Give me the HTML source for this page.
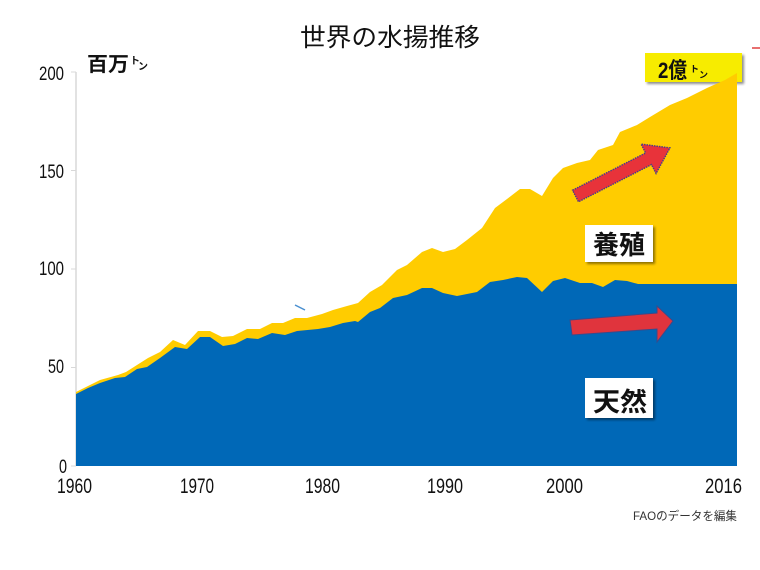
<!DOCTYPE html>
<html>
<head>
<meta charset="utf-8">
<style>
html,body{margin:0;padding:0;background:#fff;}
svg{display:block;}
text{font-family:"Liberation Sans","Noto Sans CJK JP",sans-serif;}
</style>
</head>
<body>
<svg width="760" height="570" viewBox="0 0 760 570" xmlns="http://www.w3.org/2000/svg">
<defs>
<filter id="sh" x="-20%" y="-20%" width="150%" height="160%">
<feGaussianBlur in="SourceAlpha" stdDeviation="1.2"/>
<feOffset dx="2" dy="2" result="o"/>
<feComponentTransfer><feFuncA type="linear" slope="0.45"/></feComponentTransfer>
<feMerge><feMergeNode/><feMergeNode in="SourceGraphic"/></feMerge>
</filter>
</defs>
<rect width="760" height="570" fill="#fff"/>

<!-- title -->
<text x="390" y="46" text-anchor="middle" font-size="25" textLength="180" lengthAdjust="spacingAndGlyphs" fill="#111">世界の水揚推移</text>

<!-- unit -->
<text x="87" y="71" font-size="20" font-weight="bold" fill="#111" textLength="42" lengthAdjust="spacingAndGlyphs">百万</text>
<text x="130" y="64" font-size="10" font-weight="bold" fill="#111">ト</text>
<text x="138" y="70" font-size="10" font-weight="bold" fill="#111">ン</text>

<!-- y axis -->
<line x1="76" y1="72" x2="76" y2="466" stroke="#d8d8d8" stroke-width="1.5"/>
<g stroke="#d8d8d8" stroke-width="1">
<line x1="71" y1="72" x2="76" y2="72"/>
<line x1="71" y1="170.5" x2="76" y2="170.5"/>
<line x1="71" y1="269" x2="76" y2="269"/>
<line x1="71" y1="367.5" x2="76" y2="367.5"/>
<line x1="71" y1="466" x2="76" y2="466"/>
</g>
<g font-size="19" fill="#111" text-anchor="end">
<text x="64" y="80" textLength="25" lengthAdjust="spacingAndGlyphs">200</text>
<text x="64" y="178" textLength="25" lengthAdjust="spacingAndGlyphs">150</text>
<text x="64" y="275" textLength="25" lengthAdjust="spacingAndGlyphs">100</text>
<text x="64" y="373" textLength="16" lengthAdjust="spacingAndGlyphs">50</text>
<text x="67" y="473" textLength="8" lengthAdjust="spacingAndGlyphs">0</text>
</g>

<!-- x labels -->
<g font-size="21" fill="#111">
<text x="57" y="493" textLength="35" lengthAdjust="spacingAndGlyphs">1960</text>
<text x="180" y="493" textLength="34" lengthAdjust="spacingAndGlyphs">1970</text>
<text x="305" y="493" textLength="35" lengthAdjust="spacingAndGlyphs">1980</text>
<text x="427" y="493" textLength="36" lengthAdjust="spacingAndGlyphs">1990</text>
<text x="546" y="493" textLength="37" lengthAdjust="spacingAndGlyphs">2000</text>
<text x="705" y="493" textLength="37" lengthAdjust="spacingAndGlyphs">2016</text>
</g>

<!-- source -->
<text x="633" y="520" font-size="12" fill="#333" textLength="104" lengthAdjust="spacingAndGlyphs">FAOのデータを編集</text>

<!-- 2億トン box (under chart) -->
<g filter="url(#sh)">
<rect x="645" y="53" width="97" height="29" fill="#f7ec00"/>
</g>
<text x="658" y="78" font-size="22" font-weight="bold" fill="#111" textLength="29" lengthAdjust="spacingAndGlyphs">2億</text>
<text x="690" y="72" font-size="9" font-weight="bold" fill="#111">ト</text>
<text x="699" y="78" font-size="9" font-weight="bold" fill="#111">ン</text>

<!-- red mark top right -->
<line x1="752" y1="48" x2="760" y2="48" stroke="#e04040" stroke-width="1.5"/>

<!-- yellow (total) area -->
<polygon fill="#ffcc00" points="76,392 88,386 100,380 118,375 126,372 137,365 148,358 160,352 173,340 185,345 198,331 210,331 222,337 233,336 247,329 260,329 272,323 283,323 295,318 307,318 322,314 333,310 347,306 358,303 370,292 382,285 397,270 407,265 422,252 432,248 443,252 455,249 467,240 482,228 495,208 507,199 520,189 530,189 542,196 553,178 563,168 577,163 590,160 598,150 613,145 620,132 637,125 650,117 670,105 687,98 707,88 725,80 737,73 737,466 76,466"/>

<!-- blue (capture) area -->
<polygon fill="#0068b7" points="76,394 88,388 100,383 115,378 125,377 137,369 147,367 160,358 175,347 187,349 200,337 210,337 223,346 235,344 247,338 258,339 272,333 285,335 297,331 318,329 330,327 343,323 355,321 358,322 370,312 380,308 393,298 407,295 422,288 432,288 443,293 457,296 477,292 490,282 503,280 517,277 527,278 542,292 553,281 565,278 580,283 592,283 603,287 615,280 627,281 638,284 737,284 737,466 76,466"/>

<!-- stray blue mark -->
<line x1="295" y1="305" x2="305" y2="310" stroke="#4a8fd0" stroke-width="1.5"/>

<!-- up-right arrow -->
<g transform="translate(575.5,196) rotate(-27)">
<polygon points="0,-6.5 82,-6.5 82,-16.5 106,0 82,16.5 82,6.5 0,6.5" fill="#e8333a" stroke="#4a3a8a" stroke-width="1.4" stroke-dasharray="1.5,1"/>
</g>

<!-- horizontal arrow -->
<polygon points="570,320 657,313 657,306 673,321 657,342 657,329 572,335" fill="#e8333a" stroke="#3a4a8a" stroke-width="1" opacity="0.97"/>

<!-- 養殖 label -->
<g filter="url(#sh)">
<rect x="585" y="225" width="68" height="37" fill="#fff"/>
</g>
<text x="593" y="254" font-size="26" font-weight="bold" fill="#111" textLength="52" lengthAdjust="spacingAndGlyphs">養殖</text>

<!-- 天然 label -->
<g filter="url(#sh)">
<rect x="585" y="378" width="68" height="40" fill="#fff"/>
</g>
<text x="593" y="411" font-size="26" font-weight="bold" fill="#111" textLength="54" lengthAdjust="spacingAndGlyphs">天然</text>
</svg>
</body>
</html>
